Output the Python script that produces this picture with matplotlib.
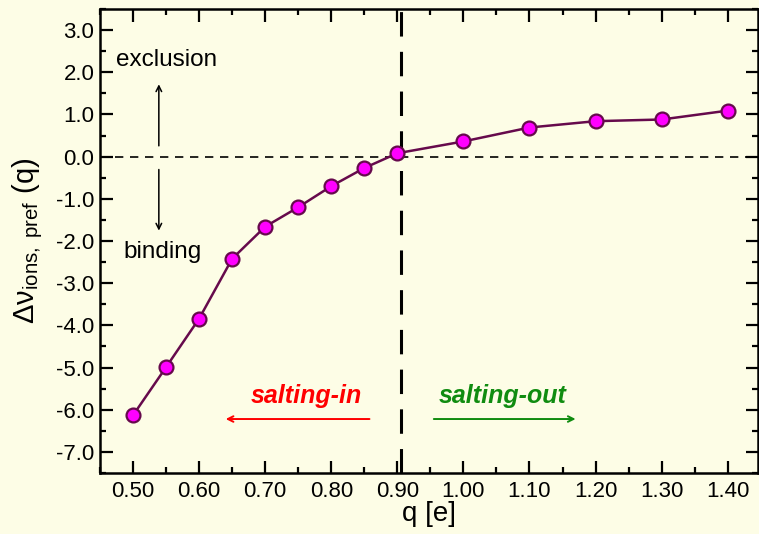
import matplotlib
matplotlib.use('Agg')
import matplotlib.pyplot as plt
from matplotlib.ticker import MultipleLocator, FormatStrFormatter

plt.rcParams['font.family'] = ['Liberation Sans', 'DejaVu Sans']
plt.rcParams['axes.unicode_minus'] = False
plt.rcParams['mathtext.fontset'] = 'custom'
plt.rcParams['mathtext.rm'] = 'Liberation Sans'
plt.rcParams['mathtext.it'] = 'Liberation Sans:italic'

# ion charge q and preferential interaction parameter
q = [0.50, 0.55, 0.60, 0.65, 0.70, 0.75, 0.80, 0.85, 0.90,
     1.00, 1.10, 1.20, 1.30, 1.40]
dnu = [-6.13, -4.99, -3.84, -2.42, -1.66, -1.20, -0.70, -0.27, 0.08,
       0.36, 0.69, 0.84, 0.88, 1.09]
q_cross = 0.905

bg = '#fdfde6'
line_col = '#660a4c'

fig = plt.figure(figsize=(7.59, 5.34), dpi=100, facecolor=bg)
ax = fig.add_axes([0.1318, 0.1142, 0.867, 0.869], facecolor=bg)

ax.plot(q, dnu, '-', color=line_col, lw=1.8, zorder=3)
ax.plot(q, dnu, 'o', ms=10, mfc='#ff00ff', mec=line_col, mew=1.6, zorder=4)

ax.axhline(0.0, color='black', lw=1.2, ls=(0, (5, 4)), zorder=1)
ax.axvline(q_cross, color='black', lw=2.2, ls=(0, (8, 5)), zorder=1)

ax.set_xlim(0.45, 1.446)
ax.set_ylim(-7.5, 3.5)

ax.xaxis.set_major_locator(MultipleLocator(0.1))
ax.xaxis.set_minor_locator(MultipleLocator(0.05))
ax.yaxis.set_major_locator(MultipleLocator(1.0))
ax.yaxis.set_minor_locator(MultipleLocator(0.5))
ax.xaxis.set_major_formatter(FormatStrFormatter('%.2f'))
ax.yaxis.set_major_formatter(FormatStrFormatter('%.1f'))
ax.tick_params(which='both', direction='in', top=True, right=True,
               width=1.6, labelsize=16, colors='black')
ax.tick_params(which='major', length=9)
ax.tick_params(axis='y', which='major', pad=4)
ax.tick_params(axis='x', which='major', pad=6)
ax.tick_params(which='minor', length=4.5)
for s in ax.spines.values():
    s.set_linewidth(1.8)

ax.set_xlabel('q [e]', fontsize=20, labelpad=-1)
ax.set_ylabel(r'Δν$_{\mathrm{ions,\ pref}}$ (q)', fontsize=21, labelpad=8)

# exclusion / binding markers
ax.annotate('', xy=(0.539, 1.78), xytext=(0.539, 0.19),
            arrowprops=dict(arrowstyle='->', color='black', lw=1.1))
ax.annotate('', xy=(0.539, -1.82), xytext=(0.539, -0.24),
            arrowprops=dict(arrowstyle='->', color='black', lw=1.1))
ax.text(0.550, 2.29, 'exclusion', fontsize=17.5, ha='center', va='center')
ax.text(0.544, -2.25, 'binding', fontsize=17.5, ha='center', va='center')

# salting regimes
ax.annotate('', xy=(0.636, -6.22), xytext=(0.862, -6.22),
            arrowprops=dict(arrowstyle='->', color='red', lw=1.4))
ax.text(0.763, -5.68, 'salting-in', color='red', fontsize=18,
        fontweight='bold', fontstyle='italic', ha='center', va='center')
ax.annotate('', xy=(1.174, -6.22), xytext=(0.951, -6.22),
            arrowprops=dict(arrowstyle='->', color='#108c10', lw=1.4))
ax.text(1.060, -5.68, 'salting-out', color='#108c10', fontsize=18,
        fontweight='bold', fontstyle='italic', ha='center', va='center')

fig.savefig('out.png', dpi=100, facecolor=bg)
